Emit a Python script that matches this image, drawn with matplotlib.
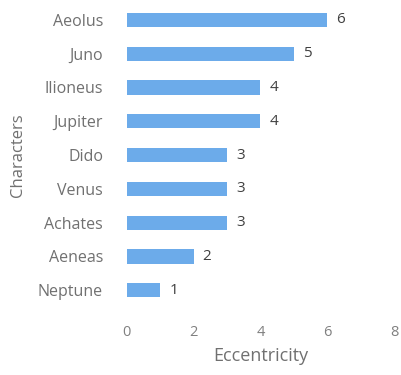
import matplotlib
matplotlib.use("Agg")
import matplotlib.pyplot as plt

characters = ["Aeolus", "Juno", "Ilioneus", "Jupiter", "Dido", "Venus", "Achates", "Aeneas", "Neptune"]
eccentricity = [6, 5, 4, 4, 3, 3, 3, 2, 1]
x_ticks = [0, 2, 4, 6, 8]

plt.rcParams["font.family"] = ["Open Sans", "DejaVu Sans"]

fig = plt.figure(figsize=(4.01, 3.75), dpi=100)
ax = fig.add_axes([0.316, 0.181, 0.667, 0.811])

ypos = list(range(len(characters)))[::-1]
ax.barh(ypos, eccentricity, height=0.42, color="#6cabea", zorder=2)

for y, v in zip(ypos, eccentricity):
    ax.text(v + 0.27, y, str(v), va="center", ha="left", fontsize=11, color="#404040")

ax.set_yticks(ypos)
ax.set_yticklabels(characters, fontsize=11.5, color="#707070")
ax.set_xticks(x_ticks)
ax.set_xticklabels([str(t) for t in x_ticks], fontsize=10.5, color="#808080")
ax.set_xlim(0, 8)
ax.set_ylim(-0.5, len(characters) - 0.5)

for s in ax.spines.values():
    s.set_visible(False)
ax.tick_params(axis="both", length=0)
ax.tick_params(axis="y", pad=17)
ax.tick_params(axis="x", pad=13)

ax.set_xlabel("Eccentricity", fontsize=13, color="#707070", labelpad=5)
ax.set_ylabel("Characters", fontsize=12, color="#707070", rotation=90,
              ha="center", va="center")
ax.yaxis.set_label_coords(-0.408, 0.5)

fig.savefig("out.png", dpi=100, facecolor="white")
